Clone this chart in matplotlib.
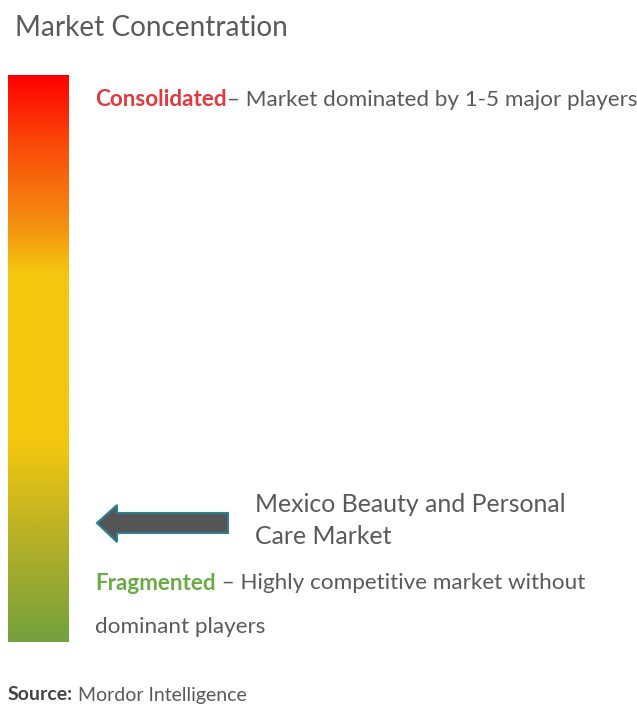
import matplotlib

matplotlib.use("Agg")
import matplotlib.pyplot as plt
import numpy as np
from matplotlib.colors import LinearSegmentedColormap
from matplotlib.patches import Polygon

plt.rcParams["font.family"] = ["Lato", "DejaVu Sans"]

# gradient stops from top (consolidated) to bottom (fragmented)
grad_pos = [0.0, 0.12, 0.25, 0.35, 0.65, 0.80, 1.0]
grad_colors = ["#ff0000", "#fb4a0a", "#f5880f", "#f3c70f", "#f3c70f", "#bdb224", "#74a03e"]

title = "Market Concentration"
top_label = ("Consolidated", "– Market dominated by 1-5 major players")
bottom_label = ("Fragmented", " – Highly competitive market without", "dominant players")
market_name = ["Mexico Beauty and Personal", "Care Market"]
source = ("Source:", " Mordor Intelligence")

GREY = "#5a5a5a"
RED = "#e0393e"
GREEN = "#6aab46"

W, H = 637, 706
fig = plt.figure(figsize=(W / 100, H / 100), dpi=100)
ax = fig.add_axes([0, 0, 1, 1])
ax.set_xlim(0, W)
ax.set_ylim(H, 0)
ax.axis("off")

# vertical gradient bar
cmap = LinearSegmentedColormap.from_list("conc", list(zip(grad_pos, grad_colors)))
grad = np.linspace(0, 1, 512).reshape(-1, 1)
ax.imshow(grad, cmap=cmap, aspect="auto", extent=(8, 69, 642, 75), zorder=1)

fig.canvas.draw()
renderer = fig.canvas.get_renderer()


def two_tone(x, y, first, rest, c1, size, weight1="bold"):
    t1 = ax.text(x, y, first, color=c1, fontsize=size, fontweight=weight1,
                 va="center", ha="left")
    bb = t1.get_window_extent(renderer)
    x_end = ax.transData.inverted().transform((bb.x1, bb.y0))[0]
    ax.text(x_end, y, rest, color=GREY, fontsize=size, va="center", ha="left")


ax.text(15, 28, title, color=GREY, fontsize=20.2, va="center", ha="left")

two_tone(95, 100, top_label[0], top_label[1], RED, 16.2)
two_tone(95, 583, bottom_label[0], bottom_label[1], GREEN, 16.2)
ax.text(95, 627, bottom_label[2], color=GREY, fontsize=16.2, va="center", ha="left")

# arrow pointing at the bar
arrow = Polygon([(97, 523), (117, 505), (117, 513), (228, 513), (228, 533),
                 (117, 533), (117, 542)], closed=True,
                facecolor="#555555", edgecolor="#2f7f8c", linewidth=1.5, zorder=3)
ax.add_patch(arrow)

ax.text(255, 505, market_name[0], color=GREY, fontsize=17.9, va="center", ha="left")
ax.text(255, 537, market_name[1], color=GREY, fontsize=17.9, va="center", ha="left")

t = ax.text(8, 695, source[0], color="#444444", fontsize=14, fontweight="bold",
            va="center", ha="left")
bb = t.get_window_extent(renderer)
xs = ax.transData.inverted().transform((bb.x1, bb.y0))[0]
ax.text(xs, 695, source[1], color=GREY, fontsize=14, va="center", ha="left")

fig.savefig("out.png", dpi=100, facecolor="white")
